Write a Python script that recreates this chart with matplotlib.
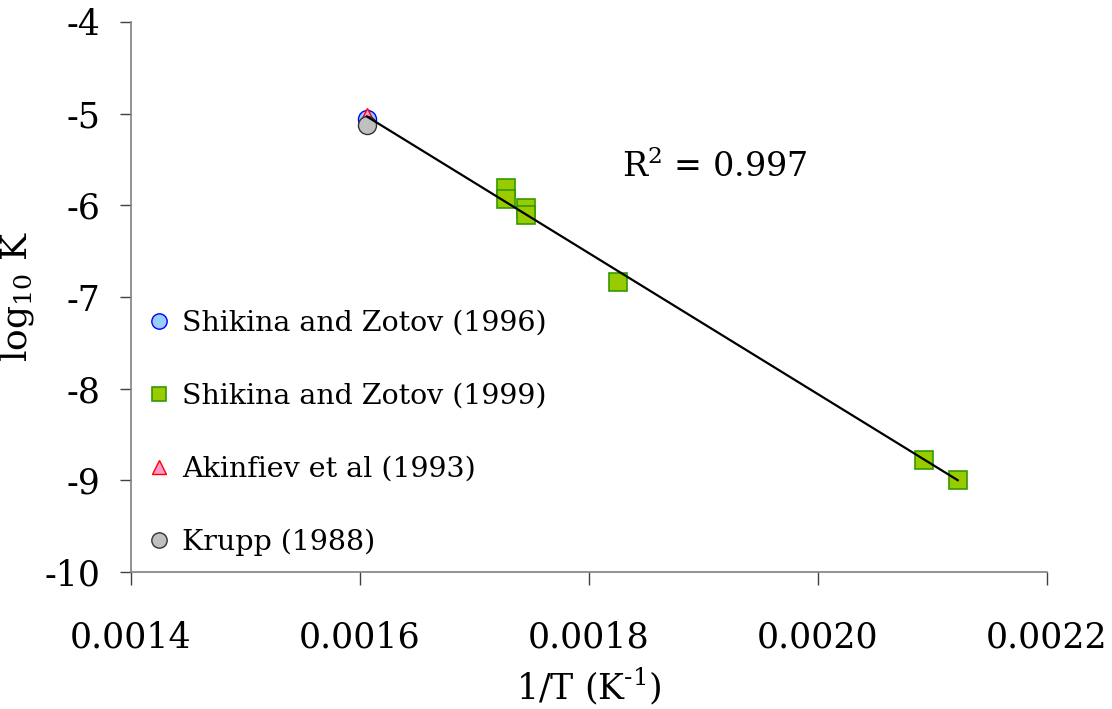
import numpy as np
import matplotlib
matplotlib.use('Agg')
import matplotlib.pyplot as plt

plt.rcParams['font.family'] = ['DejaVu Serif']
plt.rcParams['mathtext.default'] = 'regular'
plt.rcParams['axes.unicode_minus'] = False

# data
x_1996 = [0.0016060]
y_1996 = [-5.06]
x_1999 = [0.0017275, 0.0017275, 0.0017450, 0.0017450, 0.0018253, 0.0020926, 0.0021220]
y_1999 = [-5.81, -5.93, -6.03, -6.11, -6.84, -8.78, -9.00]
x_1993 = [0.0016060]
y_1993 = [-5.03]
x_1988 = [0.0016060]
y_1988 = [-5.12]

x_ticks = [0.0014, 0.0016, 0.0018, 0.0020, 0.0022]
x_tick_labels = ['0.0014', '0.0016', '0.0018', '0.0020', '0.0022']
y_ticks = [-10, -9, -8, -7, -6, -5, -4]

fig = plt.figure(figsize=(11.12, 7.09), dpi=100)
ax = fig.add_axes([0.1178, 0.1932, 0.8238, 0.7758])

ax.plot(x_1996, y_1996, 'o', ms=13, mfc='#99CCFF', mec='#0000FF', mew=1, label='Shikina and Zotov (1996)', zorder=3)
ax.plot(x_1999, y_1999, 's', ms=12.5, mfc='#99CC00', mec='#339900', mew=1.2, label='Shikina and Zotov (1999)', zorder=3)
ax.plot(x_1993, y_1993, '^', ms=12, mfc='#FF99CC', mec='#FF0000', mew=1, label='Akinfiev et al (1993)', zorder=3)
ax.plot(x_1988, y_1988, 'o', ms=13, mfc='#C0C0C0', mec='#333333', mew=1, label='Krupp (1988)', zorder=3)

# linear trend through all points
all_x = np.array(x_1996 + x_1999 + x_1993 + x_1988)
all_y = np.array(y_1996 + y_1999 + y_1993 + y_1988)
slope, icpt = np.polyfit(all_x, all_y, 1)
xl = np.array([min(x_1988), max(x_1999)])
ax.plot(xl, slope * xl + icpt, color='black', lw=1.6, zorder=4)

ax.text(0.001829, -5.58, 'R$^2$ = 0.997', fontsize=24, va='center', ha='left')

ax.set_xlim(0.0014, 0.0022)
ax.set_ylim(-10, -4)
ax.set_xticks(x_ticks)
ax.set_xticklabels(x_tick_labels)
ax.set_yticks(y_ticks)

for s in ['top', 'right']:
    ax.spines[s].set_visible(False)
for s in ['left', 'bottom']:
    ax.spines[s].set_color('#808080')
    ax.spines[s].set_linewidth(1.2)

ax.tick_params(axis='x', direction='out', length=9, width=1, color='#404040', labelsize=25, pad=26)
ax.tick_params(axis='y', direction='out', length=8, width=1, color='#404040', labelsize=25, pad=14)

ax.set_xlabel('1/T (K$^{\u2010 1}$)', fontsize=25, labelpad=8)
ax.set_ylabel('log$_{10}$ K', fontsize=26, labelpad=6)

ax.legend(loc='center left', bbox_to_anchor=(0.0153, 0.2527), frameon=False,
          fontsize=20.5, markerscale=0.85, handlelength=1.0, handletextpad=0.3,
          labelspacing=1.62, borderpad=0, borderaxespad=0)

fig.savefig('out.png', dpi=100)
